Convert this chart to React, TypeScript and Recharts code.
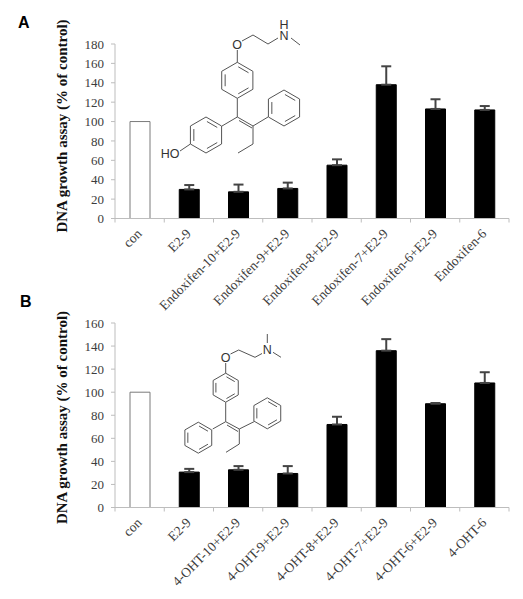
import React from 'react';
import { BarChart, Bar, XAxis, YAxis, ErrorBar, Cell } from 'recharts';

const endoxifenLabels = ['con', 'E2-9', 'Endoxifen-10+E2-9', 'Endoxifen-9+E2-9', 'Endoxifen-8+E2-9', 'Endoxifen-7+E2-9', 'Endoxifen-6+E2-9', 'Endoxifen-6'];
const endoxifenValues = [100, 30, 27.5, 31, 55, 138, 113, 112];
const endoxifenErrors = [null, 4.5, 7.5, 6, 6, 19, 10, 4];
const endoxifenTicks = [0, 20, 40, 60, 80, 100, 120, 140, 160, 180];

const ohtLabels = ['con', 'E2-9', '4-OHT-10+E2-9', '4-OHT-9+E2-9', '4-OHT-8+E2-9', '4-OHT-7+E2-9', '4-OHT-6+E2-9', '4-OHT-6'];
const ohtValues = [100, 30.7, 32.7, 29.5, 72, 136, 90, 108];
const ohtErrors = [null, 2.8, 3.2, 6.4, 6.7, 10, 0.6, 9.3];
const ohtTicks = [0, 20, 40, 60, 80, 100, 120, 140, 160];

const yTitle = 'DNA growth assay (% of control)';
const serif = '"Liberation Serif", serif';
const axisColor = '#bdbdbd';
const textColor = '#3c3c3c';
const plotWidth = 394;
const step = plotWidth / 8;

function CategoryTick(props: any) {
  const { x, y, payload, index } = props;
  return (
    <g>
      <line x1={x - step / 2} x2={x - step / 2} y1={y} y2={y + 4} stroke={axisColor} />
      {index === 7 && <line x1={x + step / 2} x2={x + step / 2} y1={y} y2={y + 4} stroke={axisColor} />}
      <text
        transform={`translate(${x + 3},${y + 16}) rotate(-45)`}
        textAnchor="end"
        fontFamily={serif}
        fontSize={13.5}
        fill={textColor}
      >
        {payload.value}
      </text>
    </g>
  );
}

function Panel({ labels, values, errors, ticks, top, height, plotTop, axisHeight, plotBottom }: any) {
  const rows = labels.map((name: string, i: number) => ({
    name,
    value: values[i],
    err: errors[i] === null ? null : [0, errors[i]],
  }));
  return (
    <div style={{ position: 'absolute', left: 0, top, width: 523, height }}>
      <BarChart
        width={523}
        height={height}
        data={rows}
        barCategoryGap={0}
        margin={{ top: plotTop, right: 14, bottom: plotBottom, left: 0 }}
      >
        <XAxis
          dataKey="name"
          height={axisHeight}
          interval={0}
          tickSize={0}
          tickMargin={0}
          axisLine={{ stroke: axisColor }}
          tickLine={false}
          tick={<CategoryTick />}
        />
        <YAxis
          width={115}
          domain={[0, ticks[ticks.length - 1]]}
          ticks={ticks}
          interval={0}
          tickSize={4}
          tickMargin={7}
          axisLine={{ stroke: axisColor }}
          tickLine={{ stroke: axisColor }}
          tick={{ fontFamily: serif, fontSize: 13, fill: textColor }}
        />
        <Bar dataKey="value" barSize={20} isAnimationActive={false} stroke="#7a7a7a" strokeWidth={1}>
          {rows.map((r: any, i: number) => (
            <Cell key={r.name} fill={i === 0 ? '#ffffff' : '#000000'} stroke={i === 0 ? '#7a7a7a' : '#000000'} />
          ))}
          <ErrorBar dataKey="err" direction="y" width={5} stroke="#444444" strokeWidth={2} isAnimationActive={false} />
        </Bar>
      </BarChart>
    </div>
  );
}

// benzene ring outline with inner bonds on the given edges
function Ring({ cx, cy, r, inner }: { cx: number; cy: number; r: number; inner: number[] }) {
  const pts = [0, 1, 2, 3, 4, 5].map((k) => {
    const a = (Math.PI / 3) * k - Math.PI / 2;
    return [cx + r * Math.cos(a), cy + r * Math.sin(a)];
  });
  return (
    <g>
      <polygon points={pts.map((p) => p.join(',')).join(' ')} fill="none" />
      {inner.map((k) => {
        const p = pts[k];
        const q = pts[(k + 1) % 6];
        const s = 0.78;
        return (
          <line
            key={k}
            x1={cx + (p[0] - cx) * s + (q[0] - p[0]) * 0.06}
            y1={cy + (p[1] - cy) * s + (q[1] - p[1]) * 0.06}
            x2={cx + (q[0] - cx) * s - (q[0] - p[0]) * 0.06}
            y2={cy + (q[1] - cy) * s - (q[1] - p[1]) * 0.06}
          />
        );
      })}
    </g>
  );
}

function Bonds({ list }: { list: number[][] }) {
  return (
    <g>
      {list.map((b, i) => (
        <line key={i} x1={b[0]} y1={b[1]} x2={b[2]} y2={b[3]} />
      ))}
    </g>
  );
}

function Overlay() {
  const atom = { fontFamily: '"Liberation Sans", sans-serif', fontSize: 12.5, fill: '#333333', stroke: 'none', textAnchor: 'middle' as const };
  const letter = { fontFamily: '"Liberation Sans", sans-serif', fontSize: 16, fontWeight: 700, fill: '#000000', stroke: 'none' };
  const title = { fontFamily: serif, fontSize: 15, fontWeight: 700, fill: '#111111', stroke: 'none', textAnchor: 'middle' as const };
  return (
    <svg width={523} height={599} style={{ position: 'absolute', left: 0, top: 0 }} stroke="#555555" strokeWidth={1}>
      <text x={18} y={28} {...letter}>A</text>
      <text x={20} y={307} {...letter}>B</text>
      <text transform="translate(67,126) rotate(-90)" {...title}>{yTitle}</text>
      <text transform="translate(67,417.5) rotate(-90)" {...title}>{yTitle}</text>

      {/* endoxifen structure */}
      <text x={237} y={49} {...atom}>O</text>
      <text x={284} y={39.5} {...atom}>N</text>
      <text x={284} y={28.5} {...atom}>H</text>
      <text x={170} y={158} {...atom}>HO</text>
      <Ring cx={237.3} cy={80.3} r={18} inner={[0, 2, 4]} />
      <Ring cx={206} cy={135} r={18} inner={[0, 2, 4]} />
      <Ring cx={284} cy={108} r={18} inner={[0, 2, 4]} />
      <Bonds
        list={[
          [242, 41, 253, 35], [253, 35, 268, 44], [268, 44, 278, 38], [291, 38, 300, 45],
          [237.3, 50, 237.3, 62.3], [237.3, 98.3, 237.3, 117], [237.3, 117, 253, 126],
          [239, 120.5, 252, 128], [237.3, 117, 222, 126], [253, 126, 268, 117],
          [253, 126, 253, 144], [253, 144, 238, 153], [190.4, 144, 180, 151],
        ]}
      />

      {/* 4-OHT structure */}
      <text x={225.7} y={362} {...atom}>O</text>
      <text x={267.3} y={354} {...atom}>N</text>
      <Ring cx={225.7} cy={387.7} r={14.5} inner={[0, 2, 4]} />
      <Ring cx={198.3} cy={437.7} r={15.5} inner={[0, 2, 4]} />
      <Ring cx={267.3} cy={413.3} r={15.5} inner={[0, 2, 4]} />
      <Bonds
        list={[
          [230.5, 354, 238.7, 350], [238.7, 350, 255, 357.3], [255, 357.3, 262, 353.5],
          [267.3, 334, 267.3, 343], [273, 352.3, 281, 357.3],
          [225.7, 363, 225.7, 373.2], [225.7, 402.2, 225.7, 421.7], [225.7, 421.7, 239.3, 429],
          [227, 425, 238, 431.5], [225.7, 421.7, 212.7, 429], [239.3, 429, 254, 421.7],
          [239.3, 429, 239.3, 444], [239.3, 444, 226, 452.3],
        ]}
      />
    </svg>
  );
}

export default function App() {
  return (
    <div style={{ position: 'absolute', left: 0, top: 0, width: 523, height: 599, background: '#ffffff', overflow: 'hidden' }}>
      <Panel labels={endoxifenLabels} values={endoxifenValues} errors={endoxifenErrors} ticks={endoxifenTicks} top={0} height={340} plotTop={44} axisHeight={81.5} plotBottom={40} />
      <Panel labels={ohtLabels} values={ohtValues} errors={ohtErrors} ticks={ohtTicks} top={295} height={304} plotTop={28} axisHeight={91.5} plotBottom={0} />
      <Overlay />
    </div>
  );
}
